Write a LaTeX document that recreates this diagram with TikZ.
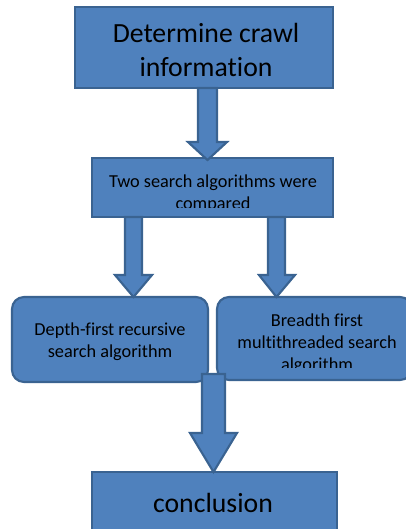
\documentclass[tikz,border=0pt]{standalone}
\usepackage{fontspec}
\setmainfont{Carlito}[Ligatures=NoCommon]
\definecolor{boxfill}{HTML}{4F81BD}
\definecolor{boxline}{HTML}{3A6391}
\begin{document}
\begin{tikzpicture}[x=0.75pt,y=-0.75pt,
  panel/.style={draw=boxline,fill=boxfill,line width=1.6pt,inner sep=0pt,outer sep=0pt},
  roundpanel/.style={panel,rounded corners=9pt},
  barrow/.style={draw=boxline,fill=boxfill,line width=1.6pt,line join=miter},
  bigtext/.style={text=black,align=center,inner sep=0pt,font={\fontsize{20.8}{24.8}\selectfont}},
  smalltext/.style={text=black,align=center,inner sep=0pt,font={\fontsize{13.7}{16.5}\selectfont}}]
\useasboundingbox (0,0) rectangle (406,529);

% boxes
\node[panel,minimum width=258*0.75pt,minimum height=81*0.75pt] (crawl) at (204,47.5) {};
\node[panel,minimum width=241*0.75pt,minimum height=59*0.75pt] (compare) at (212.5,187.5) {};
\node[roundpanel,minimum width=196*0.75pt,minimum height=85*0.75pt] (depth) at (110,339.5) {};
\node[roundpanel,minimum width=195*0.75pt,minimum height=83*0.75pt] (breadth) at (314.5,338.5) {};
\node[panel,minimum width=245*0.75pt,minimum height=70*0.75pt] (concl) at (214.5,507) {};

% labels (overflowing text is cut at the inner margin of its box)
\node[bigtext] (crawlT) at (206,50) {Determine crawl\\information};
\begin{scope}
  \clip (92,160) rectangle (333,207);
  \node[smalltext] (compareT) at (213,194) {Two search algorithms were\\compared};
\end{scope}
\node[smalltext] (depthT) at (110,342) {Depth-first recursive\\search algorithm};
\begin{scope}
  \clip (217,299) rectangle (406,367);
  \node[smalltext] (breadthT) at (317,344) {Breadth first\\multithreaded search\\algorithm};
\end{scope}
\node[bigtext] (conclT) at (213,503) {conclusion};

% block arrows
\draw[barrow] (198,88) -- (217,88) -- (217,142) -- (227,142) -- (207.5,160)
  -- (188,142) -- (198,142) -- cycle;
\draw[barrow] (125,217) -- (142,217) -- (142,275) -- (152,275) -- (133.5,297)
  -- (115,275) -- (125,275) -- cycle;
\draw[barrow] (268,217) -- (285,217) -- (285,275) -- (295,275) -- (276.5,297)
  -- (259,275) -- (268,275) -- cycle;
\draw[barrow] (202,374) -- (225,374) -- (225,433) -- (237,433) -- (213.5,472)
  -- (190,433) -- (202,433) -- cycle;
\end{tikzpicture}
\end{document}
